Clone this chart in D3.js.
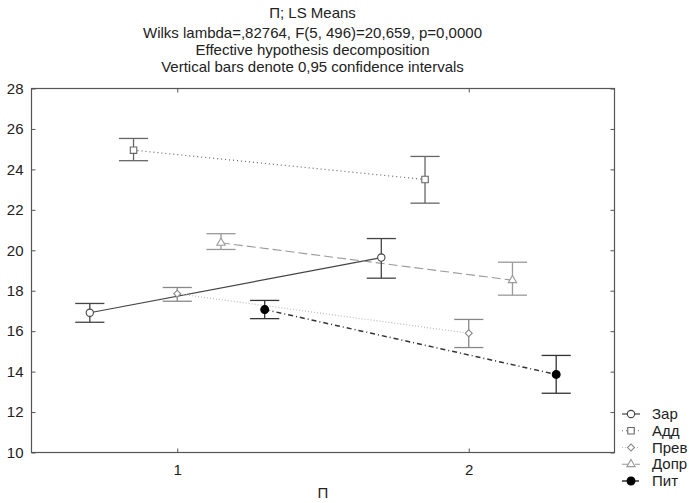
<!DOCTYPE html>
<html>
<head>
<meta charset="utf-8">
<script src="https://cdn.jsdelivr.net/npm/d3@7"></script>
<style>
  body { margin: 0; background: #fff; }
  text { font-family: "Liberation Sans", Arial, sans-serif; fill: #222; }
</style>
</head>
<body>
<div id="chart"></div>
<script>
// chart size
var svgWidth = 689;
var svgHeight = 503;

var margin = { top: 88.5, right: 74.5, bottom: 50.5, left: 31.5 };
var width = svgWidth - margin.left - margin.right;
var height = svgHeight - margin.top - margin.bottom;

// data
var levels = [1, 2];
var seriesNames = ["Зар", "Адд", "Прев", "Допр", "Пит"];
var zarMean = [16.91, 19.64], zarLow = [16.44, 18.62], zarHigh = [17.37, 20.58];
var addMean = [24.95, 23.50], addLow = [24.43, 22.33], addHigh = [25.53, 24.64];
var prevMean = [17.85, 15.90], prevLow = [17.48, 15.19], prevHigh = [18.16, 16.58];
var doprMean = [20.37, 18.52], doprLow = [20.04, 17.78], doprHigh = [20.82, 19.41];
var pitMean = [17.07, 13.86], pitLow = [16.62, 12.93], pitHigh = [17.52, 14.80];
var yTicks = [10, 12, 14, 16, 18, 20, 22, 24, 26, 28];

var titleLines = [
  "П; LS Means",
  "Wilks lambda=,82764, F(5, 496)=20,659, p=0,0000",
  "Effective hypothesis decomposition",
  "Vertical bars denote 0,95 confidence intervals"
];

// styles per series
var styles = [
  { line: "#444", dash: null, lw: 1.2, bar: "#444", shape: "circle", fill: "#fff" },
  { line: "#666", dash: "1,3", lw: 1.2, bar: "#666", shape: "square", fill: "#fff" },
  { line: "#bbb", dash: "1,2", lw: 1.2, bar: "#888", shape: "diamond", fill: "#fff" },
  { line: "#999", dash: "9,4", lw: 1.1, bar: "#999", shape: "triangle", fill: "#fff" },
  { line: "#333", dash: "5,3,1,3", lw: 1.5, bar: "#333", shape: "dot", fill: "#000" }
];

var means = [zarMean, addMean, prevMean, doprMean, pitMean];
var lows = [zarLow, addLow, prevLow, doprLow, pitLow];
var highs = [zarHigh, addHigh, prevHigh, doprHigh, pitHigh];
var offsets = [-0.3, -0.15, 0, 0.15, 0.3];

var series = seriesNames.map(function(name, i) {
  return {
    name: name,
    style: styles[i],
    points: levels.map(function(l, j) {
      return { x: l + offsets[i], y: means[i][j], lo: lows[i][j], hi: highs[i][j] };
    })
  };
});

var svg = d3.select("#chart").append("svg")
  .attr("width", svgWidth)
  .attr("height", svgHeight);

// title
svg.append("g").selectAll("text")
  .data(titleLines)
  .enter()
  .append("text")
  .attr("x", 312.5)
  .attr("y", function(d, i) { return [17.5, 37.5, 54.5, 71.5][i]; })
  .attr("text-anchor", "middle")
  .attr("font-size", "15px")
  .text(function(d) { return d; });

var chartGroup = svg.append("g")
  .attr("transform", `translate(${margin.left}, ${margin.top})`);

var xScale = d3.scaleLinear().domain([0.5, 2.5]).range([0, width]);
var yScale = d3.scaleLinear().domain([10, 28]).range([height, 0]);

// frame
chartGroup.append("rect")
  .attr("width", width)
  .attr("height", height)
  .attr("fill", "none")
  .attr("stroke", "#555")
  .attr("stroke-width", 1.2);

// axes with inward ticks
var leftAxis = d3.axisLeft(yScale).tickValues(yTicks).tickSize(-4).tickPadding(8);
var rightAxis = d3.axisRight(yScale).tickValues(yTicks).tickSize(-4).tickFormat("");
var bottomAxis = d3.axisBottom(xScale).tickValues(levels).tickSize(-4).tickPadding(12).tickFormat(d3.format("d"));
var topAxis = d3.axisTop(xScale).tickValues(levels).tickSize(-4).tickFormat("");

function styleAxis(g) {
  g.select(".domain").remove();
  g.selectAll("line").attr("stroke", "#555");
  g.selectAll("text").attr("font-size", "15px").attr("fill", "#222")
    .attr("font-family", "Liberation Sans, Arial, sans-serif");
}

chartGroup.append("g").call(leftAxis).call(styleAxis);
chartGroup.append("g").attr("transform", `translate(${width},0)`).call(rightAxis).call(styleAxis);
chartGroup.append("g").attr("transform", `translate(0,${height})`).call(bottomAxis).call(styleAxis);
chartGroup.append("g").call(topAxis).call(styleAxis);

// x axis title
chartGroup.append("text")
  .attr("x", width / 2)
  .attr("y", height + 45)
  .attr("text-anchor", "middle")
  .attr("font-size", "15px")
  .text("П");

// lines
var line = d3.line().x(d => xScale(d.x)).y(d => yScale(d.y));

chartGroup.selectAll(".series-line")
  .data(series)
  .enter()
  .append("path")
  .attr("class", "series-line")
  .attr("d", d => line(d.points))
  .attr("fill", "none")
  .attr("stroke", d => d.style.line)
  .attr("stroke-width", d => d.style.lw)
  .attr("stroke-dasharray", d => d.style.dash);

// error bars
var capHalf = 0.05;
series.forEach(function(s) {
  var g = chartGroup.append("g").attr("stroke", s.style.bar).attr("stroke-width", 1.3);
  s.points.forEach(function(p) {
    g.append("line")
      .attr("x1", xScale(p.x)).attr("x2", xScale(p.x))
      .attr("y1", yScale(p.lo)).attr("y2", yScale(p.hi));
    g.append("line")
      .attr("x1", xScale(p.x - capHalf)).attr("x2", xScale(p.x + capHalf))
      .attr("y1", yScale(p.lo)).attr("y2", yScale(p.lo));
    g.append("line")
      .attr("x1", xScale(p.x - capHalf)).attr("x2", xScale(p.x + capHalf))
      .attr("y1", yScale(p.hi)).attr("y2", yScale(p.hi));
  });
});

// markers (diamond = square turned 45 degrees)
var symbolTypes = {
  circle: d3.symbolCircle,
  square: d3.symbolSquare,
  diamond: d3.symbolSquare,
  triangle: d3.symbolTriangle,
  dot: d3.symbolCircle
};
var symbolSizes = { circle: 42, square: 42, diamond: 24, triangle: 30, dot: 48 };

function drawMarker(sel, style) {
  sel.attr("d", d3.symbol().type(symbolTypes[style.shape]).size(symbolSizes[style.shape]))
    .attr("fill", style.fill)
    .attr("stroke", style.shape === "dot" ? "#000" : style.bar)
    .attr("stroke-width", 1.1);
}

function rot(style) { return style.shape === "diamond" ? " rotate(45)" : ""; }

series.forEach(function(s) {
  chartGroup.selectAll(null)
    .data(s.points)
    .enter()
    .append("path")
    .attr("transform", d => `translate(${xScale(d.x)},${yScale(d.y)})` + rot(s.style))
    .call(drawMarker, s.style);
});

// legend
var legend = svg.append("g").attr("transform", "translate(622, 414)");
var items = legend.selectAll("g")
  .data(series)
  .enter()
  .append("g")
  .attr("transform", (d, i) => `translate(0, ${i * 16.75})`);

items.append("line")
  .attr("x1", 0).attr("x2", 18)
  .attr("y1", 0).attr("y2", 0)
  .attr("stroke", d => d.style.line)
  .attr("stroke-width", d => d.style.lw)
  .attr("stroke-dasharray", d => d.style.dash);

items.append("path")
  .attr("transform", d => "translate(9,0)" + rot(d.style))
  .each(function(d) { d3.select(this).call(drawMarker, d.style); });

items.append("text")
  .attr("x", 30)
  .attr("y", 5)
  .attr("font-size", "15px")
  .text(d => d.name);
</script>
</body>
</html>
